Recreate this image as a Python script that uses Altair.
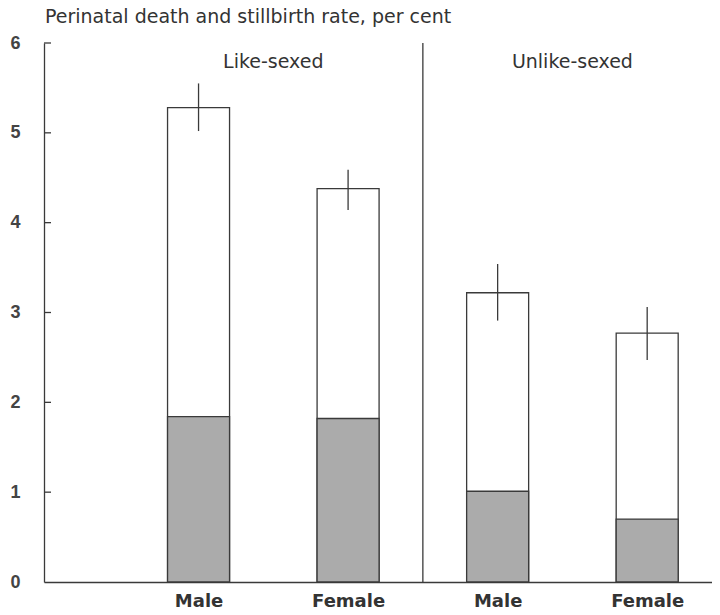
import json
import altair as alt
import pandas as pd

# ---- data ----
title_text = ["Perinatal death and stillbirth rate, per cent"]
groups = ["Like-sexed", "Like-sexed", "Unlike-sexed", "Unlike-sexed"]
sexes = ["Male", "Female", "Male", "Female"]
positions = [1, 2, 3, 4]
total_rate = [5.28, 4.38, 3.22, 2.77]        # perinatal death rate (bar height)
err_low = [5.02, 4.14, 2.91, 2.47]
err_high = [5.55, 4.59, 3.54, 3.06]
stillbirth_rate = [1.84, 1.82, 1.01, 0.70]   # stippled portion
y_ticks = [0, 1, 2, 3, 4, 5, 6]
divider_at = [2.5]

df = pd.DataFrame({
    "group": groups, "sex": sexes, "pos": positions,
    "total": total_rate, "lo": err_low, "hi": err_high, "still": stillbirth_rate,
})
ticks_df = pd.DataFrame({"v": y_ticks[1:]})
div_df = pd.DataFrame({"x": divider_at, "y0": [y_ticks[0]], "y1": [y_ticks[-1]]})
title_df = pd.DataFrame({"t": title_text})

LINE = "#3a3a3a"
TXT = "#333333"
FONT = "Liberation Sans"
SPACED = "DejaVu Sans"

label_arr = json.dumps([""] + sexes)

xscale = alt.Scale(domain=[0, 4.4], nice=False, zero=False)
yscale = alt.Scale(domain=[0, 6], nice=False)

base = alt.Chart(df)

bars = base.mark_bar(fill="white", stroke=LINE, strokeWidth=1.3, size=62).encode(
    x=alt.X("pos:Q", scale=xscale, axis=alt.Axis(
        values=positions, ticks=False, grid=False, title=None,
        labelExpr=f"{label_arr}[datum.value]", labelFont=SPACED, labelFontSize=18,
        labelFontWeight="bold", labelColor=TXT, labelPadding=10,
        domainColor=LINE, domainWidth=1.3, labelFlush=False)),
    y=alt.Y("total:Q", scale=yscale, axis=alt.Axis(
        values=y_ticks, format="d", ticks=False, grid=False, title=None,
        labelFont=FONT, labelFontSize=18, labelFontWeight="bold",
        labelColor="#444444", labelPadding=24, labelFlush=False,
        domainColor=LINE, domainWidth=1.3)),
)

still = base.mark_bar(fill="#ababab", stroke=LINE, strokeWidth=1.3, size=62).encode(
    x=alt.X("pos:Q", scale=xscale),
    y=alt.Y("still:Q", scale=yscale),
)

errs = base.mark_rule(color=LINE, strokeWidth=1.3).encode(
    x=alt.X("pos:Q", scale=xscale),
    y=alt.Y("lo:Q", scale=yscale),
    y2="hi:Q",
)

yticks = alt.Chart(ticks_df).mark_rule(color=LINE, strokeWidth=1.3).encode(
    x=alt.value(0), x2=alt.value(7),
    y=alt.Y("v:Q", scale=yscale),
)

divider = alt.Chart(div_df).mark_rule(color=LINE, strokeWidth=1.3).encode(
    x=alt.X("x:Q", scale=xscale),
    y=alt.Y("y0:Q", scale=yscale),
    y2="y1:Q",
)

group_text = base.mark_text(font=SPACED, fontSize=19, color=TXT,
                            baseline="middle", align="center").encode(
    x=alt.X("mx:Q", scale=xscale),
    y=alt.value(19),
    text="group:N",
).transform_aggregate(mx="mean(pos)", groupby=["group"])

title = alt.Chart(title_df).mark_text(font=SPACED, fontSize=19, color=TXT,
                                      baseline="middle", align="left").encode(
    x=alt.value(1), y=alt.value(-26), text="t:N",
)

chart = alt.layer(bars, still, errs, yticks, divider, group_text, title).properties(
    width=668, height=539,
    autosize=alt.AutoSizeParams(type="none"),
    padding={"left": 36, "top": 35, "right": 0, "bottom": 30},
).configure(background="white").configure_view(stroke=None)

chart.save("out.html", embed_options={"renderer": "svg", "actions": False})
